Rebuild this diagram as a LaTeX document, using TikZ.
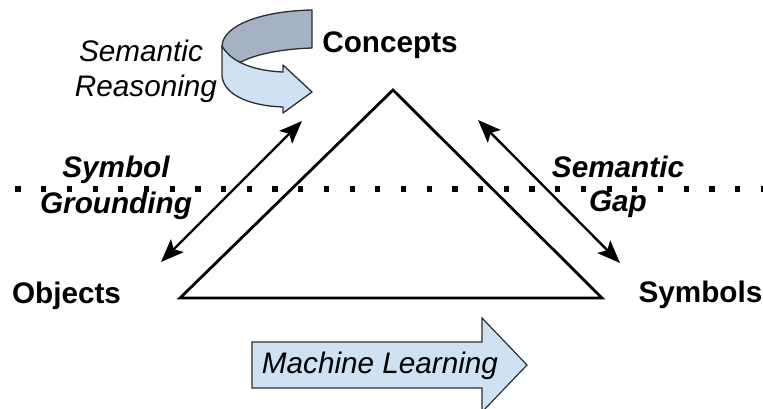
\documentclass[tikz,border=0pt]{standalone}
\usepackage{fontspec}
\setmainfont{Liberation Sans}
\usetikzlibrary{arrows.meta}
\definecolor{lightband}{RGB}{207,226,243}
\definecolor{darkband}{RGB}{164,178,196}
\definecolor{edgegray}{RGB}{45,45,45}
\tikzset{
  bigtext/.style={font=\fontsize{29.7}{36}\selectfont, inner sep=0pt, anchor=base},
  boldlabel/.style={bigtext, font=\fontsize{29.7}{36}\selectfont\bfseries},
  bilabel/.style={bigtext, font=\fontsize{29.7}{36}\selectfont\bfseries\itshape},
  itlabel/.style={bigtext, font=\fontsize{29.7}{36}\selectfont\itshape},
  dblarrow/.style={line width=2.4pt, {Stealth[length=23pt,width=18pt,inset=5pt]}-{Stealth[length=23pt,width=18pt,inset=5pt]}},
  ribbon/.style={draw=edgegray, line width=1.3pt, line join=round},
}
\begin{document}
\begin{tikzpicture}[x=1pt,y=-1pt]
\useasboundingbox (0,0) rectangle (763,409);
% dotted line
\foreach \i in {0,...,29} {
  \fill ({18+25.7*\i-2.6},186.4) rectangle ++(5.2,5.2);
}
% triangle
\coordinate (apex) at (393,90);
\coordinate (bl) at (180,298);
\coordinate (br) at (602,298);
\draw[line width=2.8pt, line join=miter] (apex) -- (br) -- (bl) -- cycle;
% labels
\node[boldlabel] (concepts) at (390,53) {Concepts};
\node[boldlabel] (objects) at (66.5,303) {Objects};
\node[boldlabel] (symbols) at (700.5,302) {Symbols};
\node[bilabel] (sg1) at (116,177) {Symbol};
\node[bilabel] (sg2) at (116,213) {Grounding};
\node[bilabel] (gap1) at (618,178) {Semantic};
\node[bilabel] (gap2) at (618,211) {Gap};
\node[itlabel] (sr1) at (141,62) {Semantic};
\node[itlabel] (sr2) at (146,97) {Reasoning};
% double arrows
\coordinate (la) at (302,121);
\coordinate (lb) at (161,262);
\coordinate (ra) at (478,120);
\coordinate (rb) at (620,263);
\draw[dblarrow] (la) -- (lb);
\draw[dblarrow] (ra) -- (rb);
% semantic reasoning ribbon
\draw[ribbon, fill=darkband] (312,10) .. controls (262,11) and (223,25) .. (222,46)
  .. controls (223,55) and (230,60) .. (241,62)
  .. controls (256,54) and (282,49) .. (312,48) -- cycle;
\draw[ribbon, fill=lightband] (222,46) -- (222,76)
  .. controls (224,96) and (252,106) .. (283,107) -- (283,113) -- (312,92) -- (283,65) -- (283,72)
  .. controls (258,71) and (232,64) .. (222,46) -- cycle;
% machine learning arrow
\draw[draw=edgegray, line width=1.2pt, fill=lightband, line join=miter]
  (252,342) -- (482,342) -- (482,318) -- (527,365) -- (482,412) -- (482,388) -- (252,388) -- cycle;
\node[itlabel] (ml) at (380,373) {Machine Learning};
\end{tikzpicture}
\end{document}
